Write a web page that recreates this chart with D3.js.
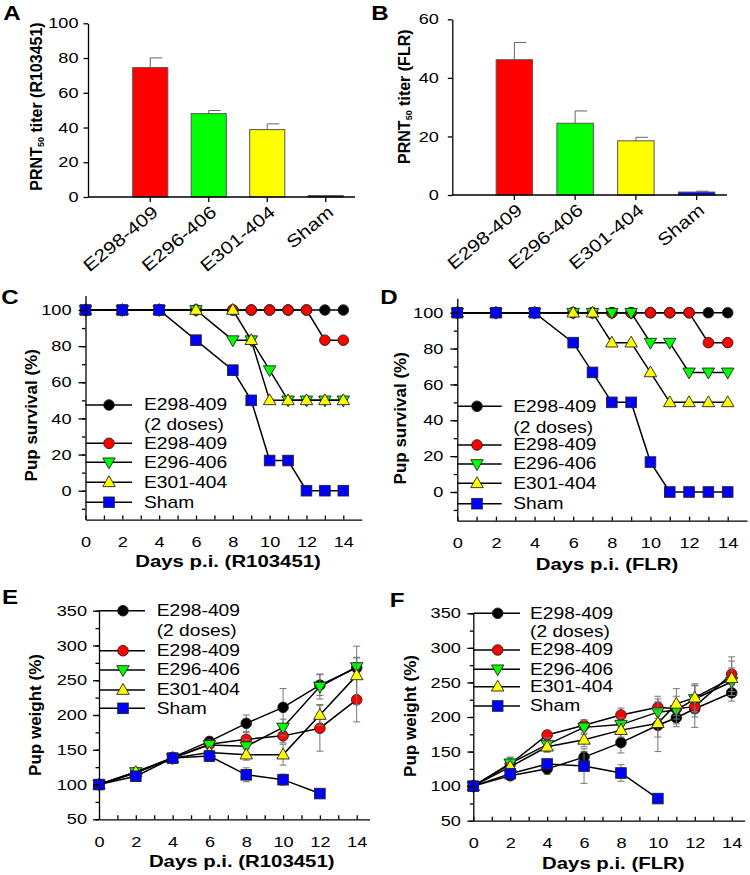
<!DOCTYPE html>
<html><head><meta charset="utf-8">
<script src="https://cdn.jsdelivr.net/npm/d3@7"></script>
<style>
body{margin:0;background:#fff}
svg{display:block}
text{font-family:"Liberation Sans",Arial,Helvetica,sans-serif;fill:#000}
</style>
</head><body>
<svg id="c" width="750" height="875"></svg>
<script>
// ---------------- DATA ----------------
const barCategories = ["E298-409", "E296-406", "E301-404", "Sham"];
const titerR103451 = [74.5, 48.0, 38.8, 0.8];
const titerR103451Err = [5.6, 1.8, 3.3, 0];
const titerFLR = [46.2, 24.5, 18.5, 1.0];
const titerFLRErr = [5.9, 4.2, 1.2, 0.3];

const seriesNames = ["E298-409", "E298-409", "E296-406", "E301-404", "Sham"];
const seriesSubtitle = ["(2 doses)", "", "", "", ""];

// Panel C: survival, R103451
const survDaysR = [0, 2, 4, 6, 8, 9, 10, 11, 12, 13, 14];
const survR_2dose = [100, 100, 100, 100, 100, 100, 100, 100, 100, 100, 100];
const survR_E298 = [100, 100, 100, 100, 100, 100, 100, 100, 100, 83.3, 83.3];
const survR_E296 = [100, 100, 100, 100, 83.3, 83.3, 66.7, 50, 50, 50, 50];
const survR_E301 = [100, 100, 100, 100, 100, 83.3, 50, 50, 50, 50, 50];
const survR_Sham = [100, 100, 100, 83.3, 66.7, 50, 16.7, 16.7, 0, 0, 0];

// Panel D: survival, FLR
const survDaysF = [0, 2, 4, 6, 7, 8, 9, 10, 11, 12, 13, 14];
const survF_2dose = [100, 100, 100, 100, 100, 100, 100, 100, 100, 100, 100, 100];
const survF_E298 = [100, 100, 100, 100, 100, 100, 100, 100, 100, 100, 83.3, 83.3];
const survF_E296 = [100, 100, 100, 100, 100, 100, 100, 83.3, 83.3, 66.7, 66.7, 66.7];
const survF_E301 = [100, 100, 100, 100, 100, 83.3, 83.3, 66.7, 50, 50, 50, 50];
const survF_Sham = [100, 100, 100, 83.3, 66.7, 50, 50, 16.7, 0, 0, 0, 0];

// Panel E: weight, R103451
const wDaysR = [0, 2, 4, 6, 8, 10, 12, 14];
const wR_2dose = [100, 117, 139, 162, 188, 211, 243, 268];
const wR_2doseErr = [2, 3, 6, 6, 12, 27, 15, 14];
const wR_E298 = [100, 117, 138, 158, 165, 170, 181, 222];
const wR_E298Err = [2, 3, 5, 6, 10, 10, 33, 32];
const wR_E296 = [100, 118, 138, 157, 155, 182, 241, 269];
const wR_E296Err = [2, 3, 5, 6, 10, 12, 18, 14];
const wR_E301 = [100, 118, 138, 146, 143, 143, 200, 257];
const wR_E301Err = [2, 3, 5, 8, 8, 15, 15, 42];
const wDaysR_Sham = [0, 2, 4, 6, 8, 10, 12];
const wR_Sham = [100, 112, 138, 141, 114, 107, 87];
const wR_ShamErr = [2, 3, 7, 8, 10, 8, 0];

// Panel F: weight, FLR
const wDaysF = [0, 2, 4, 6, 8, 10, 11, 12, 14];
const wF_2dose = [100, 115, 125, 142, 163, 188, 199, 212, 235];
const wF_2doseErr = [2, 4, 8, 8, 15, 38, 13, 12, 12];
const wF_E298 = [100, 132, 174, 188, 203, 214, 212, 215, 262];
const wF_E298Err = [2, 10, 5, 8, 10, 16, 10, 30, 25];
const wF_E296 = [100, 133, 160, 185, 189, 207, 210, 226, 251];
const wF_E296Err = [2, 8, 10, 10, 10, 15, 20, 20, 20];
const wF_E301 = [100, 128, 157, 167, 181, 191, 219, 228, 256];
const wF_E301Err = [2, 6, 8, 10, 10, 20, 22, 20, 25];
const wDaysF_Sham = [0, 2, 4, 6, 8, 10];
const wF_Sham = [100, 118, 132, 129, 119, 82];
const wF_ShamErr = [2, 4, 6, 25, 12, 0];

// ---------------- STYLE ----------------
const barColors = ["#ff0000", "#00ff00", "#ffff00", "#0000ff"];
const seriesStyle = [
  {fill: "#000000", sym: "circle"},
  {fill: "#ff0000", sym: "circle"},
  {fill: "#00ff00", sym: "down"},
  {fill: "#ffff00", sym: "up"},
  {fill: "#0000ff", sym: "square"}
];
const TICK_FS = 14.5, TICK_SX = 1.25;
const svg = d3.select("#c");

function stext(g, x, y, s, o = {}) {
  return g.append("text")
    .attr("transform", `translate(${x},${y}) rotate(${o.rot || 0}) scale(${o.sx || 1},${o.sy || 1})`)
    .attr("text-anchor", o.anchor || "start")
    .attr("dominant-baseline", o.base || "central")
    .style("font-size", (o.size || 14) + "px")
    .style("font-weight", o.bold ? "bold" : "normal")
    .text(s);
}

function marker(g, x, y, sym, fill) {
  let el;
  if (sym === "circle") el = g.append("circle").attr("cx", x).attr("cy", y).attr("r", 5.3);
  else if (sym === "square") el = g.append("rect").attr("x", x - 5.3).attr("y", y - 5.3).attr("width", 10.6).attr("height", 10.6);
  else {
    const s = 12.5, h = s * 0.866;
    if (sym === "up") el = g.append("path").attr("d", `M${x},${y - h * 0.6}L${x + s / 2},${y + h * 0.4}L${x - s / 2},${y + h * 0.4}Z`);
    else el = g.append("path").attr("d", `M${x},${y + h * 0.6}L${x + s / 2},${y - h * 0.4}L${x - s / 2},${y - h * 0.4}Z`);
  }
  el.attr("fill", fill).attr("stroke", "#222").attr("stroke-width", 0.9);
}

function styleAxis(sel, sx) {
  sel.selectAll("path,line").attr("stroke", "#000").attr("stroke-width", 1.3);
  sel.selectAll(".tick text").each(function () {
    const t = d3.select(this);
    const x = +t.attr("x") || 0, y = +t.attr("y") || 0;
    t.attr("x", null).attr("y", null)
      .attr("transform", `translate(${x},${y}) scale(${sx},1)`)
      .style("font-size", TICK_FS + "px")
      .attr("fill", "#000");
  });
  sel.attr("font-family", null).attr("font-size", null);
}

// ---------------- BAR PANELS ----------------
function barPanel(o) {
  const g = svg.append("g");
  const y = d3.scaleLinear().domain([0, o.ymax]).range([o.y0, o.yTop]);
  const x = d3.scaleBand().domain(barCategories).range([o.bandStart, o.xEnd]).paddingInner(0.4).paddingOuter(0.2);
  const bw = x.bandwidth();
  // error bars (upper only, half cap)
  o.values.forEach((v, i) => {
    if (!o.errs[i]) return;
    const cx = x(barCategories[i]) + bw / 2;
    g.append("line").attr("x1", cx).attr("x2", cx).attr("y1", y(v)).attr("y2", y(v + o.errs[i])).attr("stroke", "#666").attr("stroke-width", 1);
    g.append("line").attr("x1", cx).attr("x2", cx + 12).attr("y1", y(v + o.errs[i])).attr("y2", y(v + o.errs[i])).attr("stroke", "#666").attr("stroke-width", 1);
  });
  g.selectAll("rect.bar").data(o.values).join("rect").attr("class", "bar")
    .attr("x", (d, i) => x(barCategories[i])).attr("width", bw)
    .attr("y", d => y(d)).attr("height", d => y(0) - y(d))
    .attr("fill", (d, i) => barColors[i]).attr("stroke", "#555").attr("stroke-width", 1);
  // y axis
  const ya = g.append("g").attr("transform", `translate(${o.xAxis},0)`)
    .call(d3.axisLeft(y).tickValues(o.ticks).tickSize(4.5).tickSizeOuter(0).tickPadding(o.pad));
  styleAxis(ya, TICK_SX);
  // x axis
  g.append("line").attr("x1", o.xAxis).attr("x2", o.xEnd).attr("y1", y(0)).attr("y2", y(0)).attr("stroke", "#000").attr("stroke-width", 1.3);
  const xa = g.append("g").attr("transform", `translate(0,${y(0)})`)
    .call(d3.axisBottom(x).tickSize(5).tickFormat(""));
  xa.select(".domain").remove();
  styleAxis(xa, 1);
  barCategories.forEach(c => {
    stext(g, x(c) + bw / 2 + 9, y(0) + 17, c, {rot: -40, sx: 1.2, size: 17.5, anchor: "end", base: "auto"});
  });
  // y label
  const t = g.append("text").attr("transform", `translate(${o.ylx},${o.yly}) rotate(-90)`)
    .attr("text-anchor", "middle").attr("dominant-baseline", "central")
    .style("font-weight", "bold").style("font-size", "16px");
  t.append("tspan").text("PRNT");
  t.append("tspan").text("50").style("font-size", "9px").attr("dy", 5);
  t.append("tspan").text(o.ylabel).attr("dy", -5);
}

barPanel({values: titerR103451, errs: titerR103451Err, ymax: 100, y0: 197, yTop: 23.3,
  ticks: [0, 20, 40, 60, 80, 100], xAxis: 88, bandStart: 121, xEnd: 355, pad: 5,
  ylx: 36, yly: 106.5, ylabel: " titer (R103451)"});
barPanel({values: titerFLR, errs: titerFLRErr, ymax: 60, y0: 195, yTop: 19.3,
  ticks: [0, 20, 40, 60], xAxis: 452.3, bandStart: 484, xEnd: 727, pad: 9,
  ylx: 404, yly: 96.7, ylabel: " titer (FLR)"});

// ---------------- LINE PANELS ----------------
function linePanel(o) {
  const g = svg.append("g");
  const x = d3.scaleLinear().domain([0, 14]).range([o.x0, o.x14]);
  const y = d3.scaleLinear().domain(o.yDom).range(o.yRange);
  const xAxisScale = d3.scaleLinear().domain([0, o.xEndVal]).range([x(0), x(o.xEndVal)]);
  const yAxisScale = d3.scaleLinear().domain([o.yMin, o.yMax]).range([y(o.yMin), y(o.yMax)]);
  const axisY = y(o.yMin);

  // series
  o.series.forEach((s, si) => {
    const st = seriesStyle[si];
    const pts = s.days.map((d, i) => [d, s.vals[i], s.errs ? s.errs[i] : 0]);
    if (s.errs) {
      pts.forEach(p => {
        if (!p[2]) return;
        const cx = x(p[0]);
        g.append("line").attr("x1", cx).attr("x2", cx).attr("y1", y(p[1] - p[2])).attr("y2", y(p[1] + p[2])).attr("stroke", "#777").attr("stroke-width", 1);
        [p[1] - p[2], p[1] + p[2]].forEach(v => g.append("line").attr("x1", cx - 3.5).attr("x2", cx + 3.5).attr("y1", y(v)).attr("y2", y(v)).attr("stroke", "#777").attr("stroke-width", 1));
      });
    }
    g.append("path").datum(pts)
      .attr("d", d3.line().x(p => x(p[0])).y(p => y(p[1])))
      .attr("fill", "none").attr("stroke", "#000").attr("stroke-width", 1.5);
    pts.forEach(p => marker(g, x(p[0]), y(p[1]), st.sym, st.fill));
  });

  // y axis
  const yMinor = g.append("g").attr("transform", `translate(${x(0)},0)`)
    .call(d3.axisLeft(yAxisScale).tickValues(o.yMinorTicks).tickSize(3.5).tickFormat(""));
  yMinor.select(".domain").remove();
  styleAxis(yMinor, 1);
  const ya = g.append("g").attr("transform", `translate(${x(0)},0)`)
    .call(d3.axisLeft(yAxisScale).tickValues(o.yTicks).tickSize(o.yTickLen).tickSizeOuter(0).tickPadding(o.yPad));
  styleAxis(ya, TICK_SX);
  // x axis
  const xa = g.append("g").attr("transform", `translate(0,${axisY})`)
    .call(d3.axisBottom(xAxisScale).tickValues(d3.range(0, 15)).tickSize(-4).tickSizeOuter(0).tickPadding(17.4)
      .tickFormat(d => d % 2 === 0 ? d : ""));
  styleAxis(xa, TICK_SX);

  // legend
  const L = o.legend;
  o.series.forEach((s, si) => {
    const st = seriesStyle[si];
    const ry = L.rows[si];
    g.append("line").attr("x1", x(0)).attr("x2", L.lx2).attr("y1", ry).attr("y2", ry).attr("stroke", "#000").attr("stroke-width", 1.5);
    marker(g, L.mx, ry, st.sym, st.fill);
    stext(g, L.tx, ry, seriesNames[si], {size: 16, sx: 1.2});
    if (seriesSubtitle[si]) stext(g, L.tx, L.subRow, seriesSubtitle[si], {size: 16, sx: 1.2});
  });

  // titles
  stext(g, o.xtx, o.xty, o.xtitle, {size: 16.3, sx: 1.25, bold: true, anchor: "middle"});
  stext(g, o.ytx, o.yty, o.ytitle, {size: 17, bold: true, anchor: "middle", rot: -90});
}

linePanel({
  x0: 85.5, x14: 343.3, xEndVal: 15, yDom: [0, 100], yRange: [490.7, 310], yMin: -16, yMax: 108,
  yTicks: [0, 20, 40, 60, 80, 100], yMinorTicks: d3.range(-10, 101, 10), yTickLen: 7, yPad: 7,
  series: [
    {days: survDaysR, vals: survR_2dose}, {days: survDaysR, vals: survR_E298},
    {days: survDaysR, vals: survR_E296}, {days: survDaysR, vals: survR_E301},
    {days: survDaysR, vals: survR_Sham}],
  legend: {lx2: 132, mx: 109, tx: 144, rows: [405, 443.3, 462.3, 482.3, 502.3], subRow: 425},
  xtitle: "Days p.i. (R103451)", xtx: 228, xty: 561,
  ytitle: "Pup survival (%)", ytx: 31, yty: 415.3
});
linePanel({
  x0: 457.3, x14: 727.7, xEndVal: 15, yDom: [0, 100], yRange: [492, 312.7], yMin: -16, yMax: 108,
  yTicks: [0, 20, 40, 60, 80, 100], yMinorTicks: d3.range(-10, 101, 10), yTickLen: 7, yPad: 7,
  series: [
    {days: survDaysF, vals: survF_2dose}, {days: survDaysF, vals: survF_E298},
    {days: survDaysF, vals: survF_E296}, {days: survDaysF, vals: survF_E301},
    {days: survDaysF, vals: survF_Sham}],
  legend: {lx2: 501.7, mx: 477, tx: 513.3, rows: [406.3, 445, 464, 483.3, 503.7], subRow: 427.5},
  xtitle: "Days p.i. (FLR)", xtx: 607, xty: 564,
  ytitle: "Pup survival (%)", ytx: 400, yty: 418.3
});
linePanel({
  x0: 99, x14: 356.7, xEndVal: 14.7, yDom: [50, 350], yRange: [819.3, 610.7], yMin: 50, yMax: 350,
  yTicks: [50, 100, 150, 200, 250, 300, 350], yMinorTicks: d3.range(50, 351, 25), yTickLen: 6, yPad: 6,
  series: [
    {days: wDaysR, vals: wR_2dose, errs: wR_2doseErr}, {days: wDaysR, vals: wR_E298, errs: wR_E298Err},
    {days: wDaysR, vals: wR_E296, errs: wR_E296Err}, {days: wDaysR, vals: wR_E301, errs: wR_E301Err},
    {days: wDaysR_Sham, vals: wR_Sham, errs: wR_ShamErr}],
  legend: {lx2: 145, mx: 123, tx: 156.7, rows: [610.7, 650.7, 670, 690, 708.3], subRow: 631},
  xtitle: "Days p.i. (R103451)", xtx: 241.7, xty: 861,
  ytitle: "Pup weight (%)", ytx: 35, yty: 715
});
linePanel({
  x0: 473.3, x14: 731.7, xEndVal: 14.7, yDom: [50, 350], yRange: [820.7, 613.3], yMin: 50, yMax: 350,
  yTicks: [50, 100, 150, 200, 250, 300, 350], yMinorTicks: d3.range(50, 351, 25), yTickLen: 6, yPad: 6.5,
  series: [
    {days: wDaysF, vals: wF_2dose, errs: wF_2doseErr}, {days: wDaysF, vals: wF_E298, errs: wF_E298Err},
    {days: wDaysF, vals: wF_E296, errs: wF_E296Err}, {days: wDaysF, vals: wF_E301, errs: wF_E301Err},
    {days: wDaysF_Sham, vals: wF_Sham, errs: wF_ShamErr}],
  legend: {lx2: 520, mx: 497.7, tx: 530, rows: [613.3, 650, 669.3, 686.7, 706], subRow: 632},
  xtitle: "Days p.i. (FLR)", xtx: 613.3, xty: 863,
  ytitle: "Pup weight (%)", ytx: 410, yty: 716
});

// panel letters
[["A", 12, 13], ["B", 380, 13], ["C", 10, 297], ["D", 389, 297], ["E", 10, 597], ["F", 397, 600]]
  .forEach(([s, x, y]) => stext(svg, x, y, s, {size: 21, sx: 1.15, bold: true, anchor: "middle"}));
</script>
</body></html>
